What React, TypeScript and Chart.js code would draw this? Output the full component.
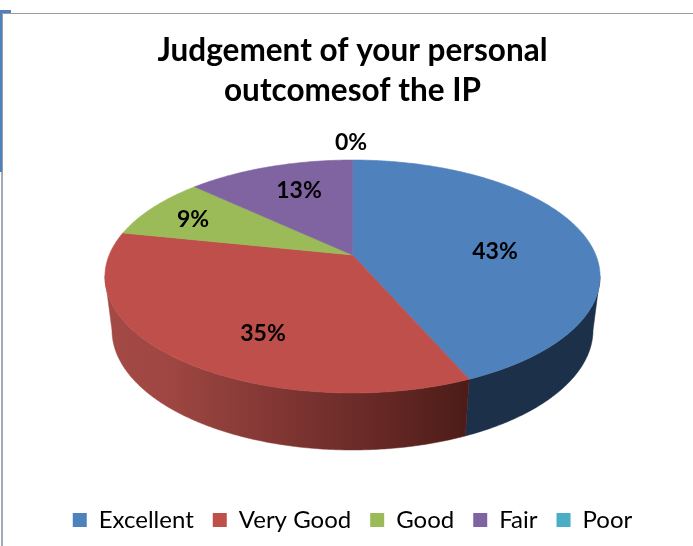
import React, { useEffect, useRef } from "react";
import { Chart, PieController, ArcElement, Title, Legend } from "chart.js";

const titleLines = ["Judgement of your personal", "outcomesof the IP"];
const categories = ["Excellent", "Very Good", "Good", "Fair", "Poor"];
const responses = [10, 8, 2, 3, 0];
const topColors = ["#4f81bd", "#be4f4b", "#9bbb59", "#8064a2", "#4bacc6"];
const FONT = "Lato, Carlito, sans-serif";

// Projection of the flat pie onto the tilted disc seen in perspective.
const CX = 352.5;
const TOP = { cy: 255, a: 112.5, b: 243.3, c: -0.1845 };
const BOTTOM = { cy: 308.4, a: 116.1, b: 236.6, c: -0.18 };
type Ring = typeof TOP;

function project(r: Ring, angle: number, f = 1) {
  const u = Math.cos(angle) * f;
  const v = Math.sin(angle) * f;
  const d = 1 + r.c * v;
  return { x: CX + (r.b * u) / d, y: r.cy + (r.a * v) / d };
}

function traceArc(ctx: CanvasRenderingContext2D, r: Ring, from: number, to: number, move = false) {
  const n = Math.max(2, Math.ceil(Math.abs(to - from) / 0.01));
  for (let i = 0; i <= n; i++) {
    const p = project(r, from + ((to - from) * i) / n);
    if (i === 0 && move) ctx.moveTo(p.x, p.y);
    else ctx.lineTo(p.x, p.y);
  }
}

ArcElement.prototype.draw = function (this: any, ctx: CanvasRenderingContext2D) {
  const { startAngle, endAngle } = this.getProps(["startAngle", "endAngle"], true);
  if (endAngle - startAngle <= 0) return;
  ctx.save();
  ctx.beginPath();
  ctx.moveTo(CX, TOP.cy);
  traceArc(ctx, TOP, startAngle, endAngle);
  ctx.closePath();
  ctx.fillStyle = this.options.backgroundColor;
  ctx.strokeStyle = this.options.backgroundColor;
  ctx.lineWidth = 0.6;
  ctx.fill();
  ctx.stroke();
  ctx.restore();
};

Chart.register(PieController, ArcElement, Title, Legend);

const framePlugin = {
  id: "frame",
  beforeDraw(chart: Chart) {
    const { ctx, width, height } = chart;
    ctx.save();
    ctx.fillStyle = "#ffffff";
    ctx.fillRect(0, 0, width, height);
    ctx.fillStyle = "#a3a9b5";
    ctx.fillRect(1, 172, 2, height - 172);
    ctx.fillStyle = "#4f81bd";
    ctx.fillRect(0, 10, 2, 162);
    ctx.fillRect(0, 10, 11, 3);
    ctx.fillStyle = "#9c9c9c";
    ctx.fillRect(3, 13, width - 3, 1);
    ctx.fillRect(2, 13, 1, 160);
    ctx.restore();
  },
};

const wallPlugin = {
  id: "wall",
  beforeDatasetsDraw(chart: Chart) {
    const { ctx } = chart;
    const arcs = chart.getDatasetMeta(0).data as any[];
    // The wall is bounded by the tangents joining the widest points of both rings.
    const visFrom = (10.5 * Math.PI) / 180;
    const visTo = (169.5 * Math.PI) / 180;
    const gradient = ctx.createLinearGradient(108, 0, 468, 0);
    gradient.addColorStop(0, "#a34a46");
    gradient.addColorStop(0.15, "#a04743");
    gradient.addColorStop(0.5, "#7e3532");
    gradient.addColorStop(0.8, "#622623");
    gradient.addColorStop(1, "#4c1c18");
    const fills: Record<number, any> = { 0: "#1d3049", 1: gradient };
    arcs.forEach((arc, i) => {
      const fill = fills[i];
      if (!fill) return;
      const { startAngle, endAngle } = arc.getProps(["startAngle", "endAngle"], true);
      const from = Math.max(startAngle, visFrom);
      const to = Math.min(endAngle, visTo);
      if (to <= from) return;
      ctx.save();
      ctx.beginPath();
      traceArc(ctx, TOP, from, to, true);
      traceArc(ctx, BOTTOM, to, from);
      ctx.closePath();
      ctx.fillStyle = fill;
      ctx.strokeStyle = fill;
      ctx.lineWidth = 0.5;
      ctx.fill();
      ctx.stroke();
      ctx.restore();
    });
  },
};

const labelAnchors = [
  [495, 252],
  [263, 334],
  [193, 220],
  [299, 191],
  [351, 143],
];

const labelPlugin = {
  id: "pctLabels",
  afterDatasetsDraw(chart: Chart) {
    const { ctx } = chart;
    const total = responses.reduce((s, v) => s + v, 0);
    ctx.save();
    ctx.font = `bold 23px ${FONT}`;
    ctx.fillStyle = "#000000";
    ctx.textAlign = "center";
    ctx.textBaseline = "middle";
    responses.forEach((v, i) => {
      ctx.fillText(`${Math.round((v / total) * 100)}%`, labelAnchors[i][0], labelAnchors[i][1]);
    });
    ctx.restore();
  },
};

export default function App() {
  const ref = useRef<HTMLCanvasElement>(null);
  useEffect(() => {
    const chart = new Chart(ref.current!, {
      type: "pie",
      data: {
        labels: categories,
        datasets: [{ data: responses, backgroundColor: topColors, borderWidth: 0 }],
      },
      options: {
        animation: false,
        responsive: false,
        devicePixelRatio: 1,
        layout: { padding: { top: 14, bottom: 4, left: 12, right: 0 } },
        plugins: {
          title: {
            display: true,
            text: titleLines,
            color: "#000000",
            font: { family: FONT, size: 31.5, weight: "bold", lineHeight: 40 / 31.5 },
            padding: { top: 17, bottom: 10 },
          },
          legend: {
            position: "bottom",
            labels: {
              color: "#000000",
              font: { family: FONT, size: 24 },
              boxWidth: 14,
              boxHeight: 14,
              padding: 19,
            },
          },
        },
      },
      plugins: [framePlugin, wallPlugin, labelPlugin],
    } as any);
    return () => chart.destroy();
  }, []);
  return (
    <div style={{ position: "fixed", left: 0, top: 0, width: 693, height: 546 }}>
      <canvas ref={ref} width={693} height={546} style={{ display: "block" }} />
    </div>
  );
}
